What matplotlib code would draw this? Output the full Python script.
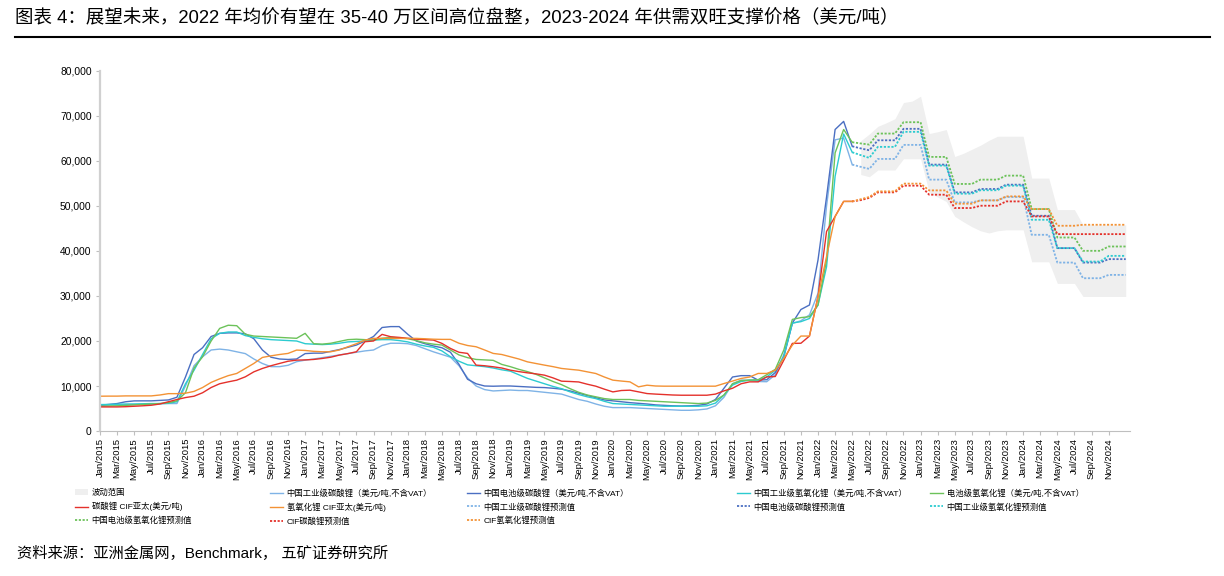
import matplotlib
matplotlib.use('Agg')
import matplotlib.pyplot as plt
import numpy as np
import pandas as pd
from matplotlib.lines import Line2D

plt.rcParams['font.family'] = ['Liberation Sans', 'Noto Sans CJK SC']

# monthly values, Jan/2015 .. May/2022 (actual)
ind_li2co3 = [5720, 5750, 5800, 5850, 5900, 5950, 6000, 6050, 6100, 6100, 10000, 14500,
              16500, 18000, 18200, 18000, 17600, 17200, 16000, 15000, 14300, 14300, 14600, 15400,
              15750, 16000, 16300, 16600, 16900, 17200, 17500, 17800, 18000, 19000, 19500, 19500,
              19400, 19000, 18300, 17600, 17000, 16400, 14500, 11800, 10000, 9200, 8900, 9000,
              9100, 9000, 9000, 8800, 8600, 8400, 8200, 7600, 7000, 6600, 6000, 5500,
              5200, 5200, 5200, 5100, 5000, 4900, 4800, 4700, 4600, 4600, 4700, 4900,
              5600, 7500, 10500, 11300, 11300, 11000, 10950, 12500, 17000, 23900, 24500, 25800,
              30600, 50000, 64700, 65100, 59200]
bat_li2co3 = [5720, 5900, 6100, 6500, 6690, 6700, 6700, 6800, 6900, 7500, 12000, 17000,
              18500, 21000, 21700, 21800, 21800, 21600, 20500, 18000, 16400, 16000, 15900, 16000,
              17200, 17300, 17300, 17700, 18100, 18600, 19100, 20000, 21000, 23000, 23200, 23200,
              21500, 20000, 19400, 18900, 18500, 17500, 14800, 11500, 10500, 10000, 9950, 10000,
              10000, 9900, 9800, 9700, 9650, 9500, 9300, 8900, 8400, 7900, 7400, 6900,
              6700, 6500, 6300, 6150, 6000, 5800, 5700, 5600, 5550, 5600, 5700, 6000,
              7000, 9500, 12000, 12300, 12300, 11300, 11400, 13000, 16500, 24000, 27000, 28000,
              38000, 52000, 67000, 68800, 63270]
ind_lioh = [5870, 5900, 5950, 6000, 6000, 6050, 6100, 6100, 6150, 6500, 10500, 13500,
            17000, 20500, 21700, 22000, 22000, 21200, 20800, 20500, 20300, 20200, 20100, 20000,
            19400, 19300, 19200, 19300, 19500, 19800, 19900, 20000, 20200, 20300, 20300, 20100,
            19800, 19300, 18900, 18600, 17800, 16500, 15500, 14700, 14500, 14300, 14000, 13600,
            13300, 12500, 11700, 11100, 10500, 9900, 9400, 8700, 8100, 7600, 7200, 6600,
            6100, 6000, 5900, 5800, 5700, 5600, 5500, 5500, 5500, 5500, 5500, 5600,
            6200, 8000, 10200, 11000, 11300, 11300, 12000, 13500, 16500, 24000, 24300, 25000,
            28000, 36500, 56600, 66000, 61940]
bat_lioh = [5500, 5550, 5600, 5700, 5800, 5900, 6000, 6100, 6300, 6700, 8500, 14000,
            16500, 20000, 22800, 23500, 23400, 21500, 21100, 21000, 20900, 20800, 20700, 20600,
            21700, 19400, 19300, 19500, 19900, 20300, 20400, 20300, 20200, 20600, 20800, 20700,
            20500, 20100, 19600, 19300, 19100, 18000, 16900, 16300, 15900, 15800, 15700, 14800,
            14300, 13700, 13200, 12600, 11800, 11000, 10300, 9400, 8600, 8000, 7600, 7200,
            7000, 7000, 7000, 6800, 6700, 6600, 6500, 6400, 6300, 6200, 6100, 6200,
            6800, 8000, 10500, 11200, 11300, 11400, 12500, 13700, 18000, 24800, 25200, 25400,
            28000, 38000, 61800, 67000, 64170]
cif_li2co3 = [5350, 5350, 5350, 5400, 5500, 5600, 5720, 6000, 6500, 7000, 7430, 7730,
              8500, 9660, 10500, 10920, 11300, 12040, 13150, 13900, 14500, 15010, 15500, 15750,
              15800, 15900, 16120, 16400, 16870, 17200, 17610, 19840, 20000, 21470, 20950, 20800,
              20600, 20400, 20300, 20210, 19470, 18350, 17500, 17240, 14640, 14500, 14270, 14000,
              13520, 13200, 12930, 12700, 12410, 11800, 11070, 11000, 10900, 10400, 9960, 9300,
              8690, 9000, 9070, 8700, 8320, 8200, 8100, 8000, 7950, 7950, 7950, 7950,
              8200, 8920, 9500, 10500, 10920, 10920, 12030, 12100, 15750, 19470, 19500, 21100,
              29860, 44340, 47680, 51020, 51020]
cif_lioh = [7730, 7750, 7750, 7800, 7800, 7800, 7800, 8000, 8300, 8300, 8400, 8800,
            9660, 10800, 11590, 12300, 12790, 13900, 15010, 16350, 16700, 17000, 17240, 17980,
            17900, 17700, 17610, 17610, 18000, 18720, 19400, 20210, 20580, 20580, 20580, 20580,
            20580, 20580, 20500, 20400, 20360, 20360, 19500, 19000, 18720, 18000, 17240, 17000,
            16500, 16000, 15370, 15000, 14640, 14300, 13900, 13700, 13520, 13150, 12780, 12000,
            11300, 11100, 10920, 9810, 10180, 10000, 9960, 9960, 9960, 9960, 9960, 9960,
            9960, 10550, 11100, 11670, 12000, 12790, 12790, 13500, 16130, 19090, 21100, 21100,
            29860, 38770, 47680, 51020, 51020]

# forecasts, May/2022 .. Jan/2025
fc_ind_li2co3 = [59200, 58700, 58240, 60460, 60460, 60460, 63580, 63580, 63580, 55860, 55860, 55860,
                 50800, 50800, 50800, 51250, 51250, 51250, 52000, 52000, 52000, 43600, 43600, 43600,
                 37430, 37430, 37430, 33950, 33950, 33950, 34690, 34690, 34690]
fc_bat_li2co3 = [63270, 62800, 62380, 64600, 64600, 64600, 67150, 67150, 67150, 59200, 59200, 59200,
                 53030, 53030, 53030, 53780, 53780, 53780, 54740, 54740, 54740, 47830, 47830, 47830,
                 40640, 40640, 40640, 37430, 37430, 37430, 38190, 38190, 38190]
fc_ind_lioh = [61940, 61300, 60690, 63140, 63140, 63140, 66480, 66480, 66480, 58980, 58980, 58980,
               52740, 52740, 52740, 53500, 53500, 53500, 54520, 54520, 54520, 46940, 46940, 46940,
               40640, 40640, 40640, 37650, 37650, 37650, 38920, 38920, 38920]
fc_bat_lioh = [64170, 63900, 63650, 66100, 66100, 66100, 68620, 68620, 68620, 60910, 60910, 60910,
               54900, 54900, 54900, 55860, 55860, 55860, 56750, 56750, 56750, 49320, 49320, 49320,
               43000, 43000, 43000, 40040, 40040, 40040, 41000, 41000, 41000]
fc_cif_li2co3 = [51020, 51300, 51800, 53030, 53030, 53030, 54520, 54520, 54520, 52510, 52510, 52510,
                 49550, 49550, 49550, 50060, 50060, 50060, 51020, 51020, 51020, 47680, 47680, 47680,
                 43750, 43750, 43750, 43750, 43750, 43750, 43750, 43750, 43750]
fc_cif_lioh = [51020, 51500, 52000, 53250, 53250, 53250, 54970, 54970, 54970, 53470, 53470, 53470,
               50510, 50510, 50510, 51250, 51250, 51250, 52140, 52140, 52140, 49320, 49320, 49320,
               45610, 45610, 45610, 45830, 45830, 45830, 45830, 45830, 45830]

# 波动范围, Jun/2022 .. Jan/2025
band_hi = [64500, 66000, 67700, 68500, 69400, 73000, 73300, 74400, 66100, 66500, 67000,
           61000, 61700, 62600, 63500, 64600, 65500, 65500, 65500, 65500, 56200, 56200, 56200,
           49200, 49200, 49200, 45800, 45800, 45800, 45800, 45800, 45800]
band_lo = [57000, 56500, 58000, 58000, 58000, 60500, 60500, 60500, 53000, 52000, 51000,
           47700, 46500, 45400, 44500, 44000, 44500, 44700, 44700, 44700, 37600, 37600, 37600,
           32800, 32800, 32800, 29900, 29900, 29900, 29900, 29900, 29900]

m_act = np.arange(len(ind_li2co3))
m_fc = np.arange(88, 88 + len(fc_ind_li2co3))
m_band = np.arange(89, 89 + len(band_hi))
tick_m = np.arange(0, 120, 2)
tick_lab = pd.date_range('2015-01-01', periods=len(tick_m), freq='2MS').strftime('%b/%Y')

c_lb = '#7fb3e6'
c_db = '#4b6fc2'
c_cy = '#2ccbd0'
c_gr = '#6cc25a'
c_rd = '#e4312b'
c_or = '#f39235'
c_band = '#efefef'
dots = (0, (1.2, 0.9))

fig = plt.figure(figsize=(12.24, 5.76), dpi=100)
ax = fig.add_axes([100 / 1224, 1 - 431 / 576, 1030 / 1224, 360 / 576])

h_band = ax.fill_between(m_band, band_lo, band_hi, color=c_band, lw=0, label='波动范围')
h1, = ax.plot(m_act, ind_li2co3, color=c_lb, lw=1.0, label='中国工业级碳酸锂（美元/吨,不含VAT）')
h2, = ax.plot(m_act, bat_li2co3, color=c_db, lw=1.0, label='中国电池级碳酸锂（美元/吨,不含VAT）')
h3, = ax.plot(m_act, ind_lioh, color=c_cy, lw=1.0, label='中国工业级氢氧化锂（美元/吨,不含VAT）')
h4, = ax.plot(m_act, bat_lioh, color=c_gr, lw=1.0, label='电池级氢氧化锂（美元/吨,不含VAT）')
h5, = ax.plot(m_act, cif_li2co3, color=c_rd, lw=1.0, label='碳酸锂 CIF亚太(美元/吨)')
h6, = ax.plot(m_act, cif_lioh, color=c_or, lw=1.0, label='氢氧化锂 CIF亚太(美元/吨)')
f1, = ax.plot(m_fc, fc_ind_li2co3, color=c_lb, lw=1.3, ls=dots, label='中国工业级碳酸锂预测值')
f2, = ax.plot(m_fc, fc_bat_li2co3, color=c_db, lw=1.3, ls=dots, label='中国电池级碳酸锂预测值')
f3, = ax.plot(m_fc, fc_ind_lioh, color=c_cy, lw=1.3, ls=dots, label='中国工业级氢氧化锂预测值')
f4, = ax.plot(m_fc, fc_bat_lioh, color=c_gr, lw=1.3, ls=dots, label='中国电池级氢氧化锂预测值')
f5, = ax.plot(m_fc, fc_cif_li2co3, color=c_rd, lw=1.3, ls=dots, label='CIF碳酸锂预测值')
f6, = ax.plot(m_fc, fc_cif_lioh, color=c_or, lw=1.3, ls=dots, label='CIF氢氧化锂预测值')

ax.set_xlim(0, 120.5)
ax.set_ylim(0, 80000)
ax.set_yticks(np.arange(0, 80001, 10000))
ax.yaxis.set_major_formatter(matplotlib.ticker.StrMethodFormatter('{x:,.0f}'))
ax.set_xticks(tick_m)
ax.set_xticklabels(tick_lab, rotation=90)
ax.tick_params(axis='both', labelsize=6.8, length=3, width=0.8, color='#bfbfbf', pad=2)
ax.tick_params(axis='y', labelsize=7.4, pad=3)
for s in ['top', 'right']:
    ax.spines[s].set_visible(False)
ax.spines['left'].set_color('#d0d0d0')
ax.spines['left'].set_linewidth(1.6)
ax.spines['bottom'].set_color('#bfbfbf')
ax.spines['bottom'].set_linewidth(0.8)

# legend laid out in five columns like the source
cols = [[h_band, h5, f4], [h1, h6, f5], [h2, f1, f6], [h3, f2], [h4, f3]]
col_x = [75, 270, 467, 737, 930]
for hs, x in zip(cols, col_x):
    fig.legend(handles=hs, loc='upper left', bbox_to_anchor=(x / 1224, 1 - 489 / 576),
               frameon=False, fontsize=6, handlelength=1.6, handletextpad=0.4,
               labelspacing=0.6, borderpad=0, borderaxespad=0)

fig.text(15 / 1224, 1 - 18 / 576,
         '图表 4：展望未来，2022 年均价有望在 35-40 万区间高位盘整，2023-2024 年供需双旺支撑价格（美元/吨）',
         fontsize=13.3, va='center', ha='left')
fig.add_artist(Line2D([15 / 1224, 1210 / 1224], [1 - 37 / 576, 1 - 37 / 576], color='black', lw=1.5))
fig.text(17 / 1224, 1 - 553 / 576, '资料来源：亚洲金属网，Benchmark， 五矿证券研究所',
         fontsize=11, va='center', ha='left')

fig.savefig('out.png', dpi=100)
